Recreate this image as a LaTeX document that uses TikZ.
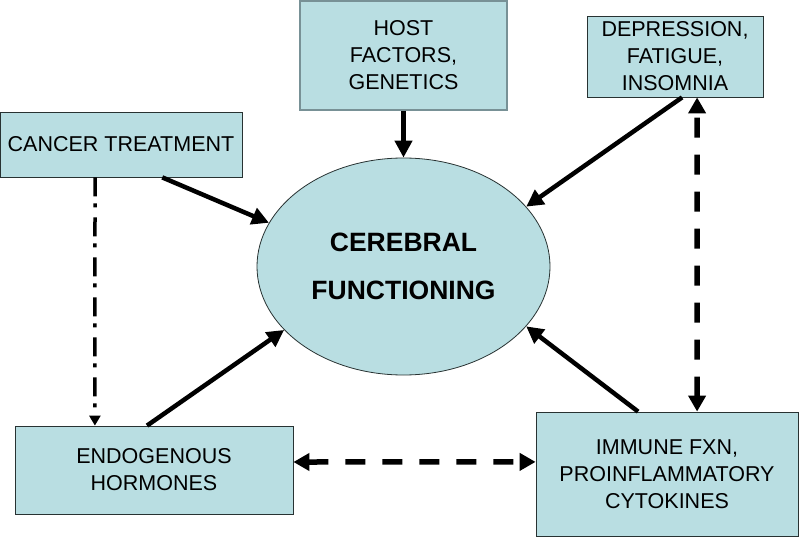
\documentclass[tikz,border=0pt]{standalone}
\usepackage{fontspec}
\setmainfont{Liberation Sans}
\usetikzlibrary{shapes.geometric,arrows.meta,calc}
\definecolor{boxfill}{RGB}{185,222,226}
\definecolor{boxline}{RGB}{40,50,50}
\definecolor{hostline}{RGB}{120,145,150}
\begin{document}
\begin{tikzpicture}[x=1pt,y=-1pt,
  box/.style={draw=boxline, line width=0.8pt, fill=boxfill, align=center, inner sep=0pt,
    font=\fontsize{21.5}{27}\selectfont},
  centre/.style={ellipse, draw=boxline, line width=0.8pt, fill=boxfill, align=center, inner sep=0pt,
    font=\bfseries\fontsize{26.5}{48}\selectfont},
  solidarrow/.style={line width=4.5pt, -{Triangle[length=17pt,width=17pt]}},
  dasharrow/.style={line width=5.5pt, dash pattern=on 20pt off 17pt,
    {Triangle[length=16pt,width=17pt]}-{Triangle[length=16pt,width=17pt]}},
  dotdasharrow/.style={line width=3.5pt, dash pattern=on 19pt off 7pt on 4pt off 10pt,
    -{Triangle[length=10pt,width=11pt]}}
]
\useasboundingbox (0,0) rectangle (800,537);

\node[box, draw=hostline, line width=2pt, minimum width=207pt, minimum height=109pt] (host) at (403.5,55.5) {HOST\\FACTORS,\\GENETICS};
\node[box, minimum width=176pt, minimum height=81pt] (dep) at (675,56.5) {DEPRESSION,\\FATIGUE,\\INSOMNIA};
\node[box, minimum width=242pt, minimum height=65pt] (cancer) at (121,144.5) {CANCER TREATMENT};
\node[box, minimum width=278pt, minimum height=88pt] (endo) at (154,470) {ENDOGENOUS\\HORMONES};
\node[box, minimum width=262pt, minimum height=124pt] (imm) at (667,474) {IMMUNE FXN,\\PROINFLAMMATORY\\CYTOKINES};
\node[centre, minimum width=293pt, minimum height=217pt] (cf) at (403.5,266.5) {CEREBRAL\\FUNCTIONING};

\draw[solidarrow] ($(cancer.south west)!0.67!(cancer.south east)$) -- (cf.162);
\draw[solidarrow] (host.south) -- (cf.north);
\draw[solidarrow] ($(dep.south west)!0.54!(dep.south east)$) -- (cf.26);
\draw[solidarrow] ($(endo.north west)!0.475!(endo.north east)$) -- (cf.208);
\draw[solidarrow] ($(imm.north west)!0.39!(imm.north east)$) -- (cf.-26);

\draw[dotdasharrow] ($(cancer.south west)!0.393!(cancer.south east)$) -- ($(endo.north west)!0.288!(endo.north east)$);
\draw[dasharrow] ($(imm.north west)!0.6145!(imm.north east)$) -- ($(dep.south west)!0.625!(dep.south east)$);
\draw[dasharrow] ($(endo.north east)!0.41!(endo.south east)$) -- ($(imm.north west)!0.403!(imm.south west)$);
\end{tikzpicture}
\end{document}
